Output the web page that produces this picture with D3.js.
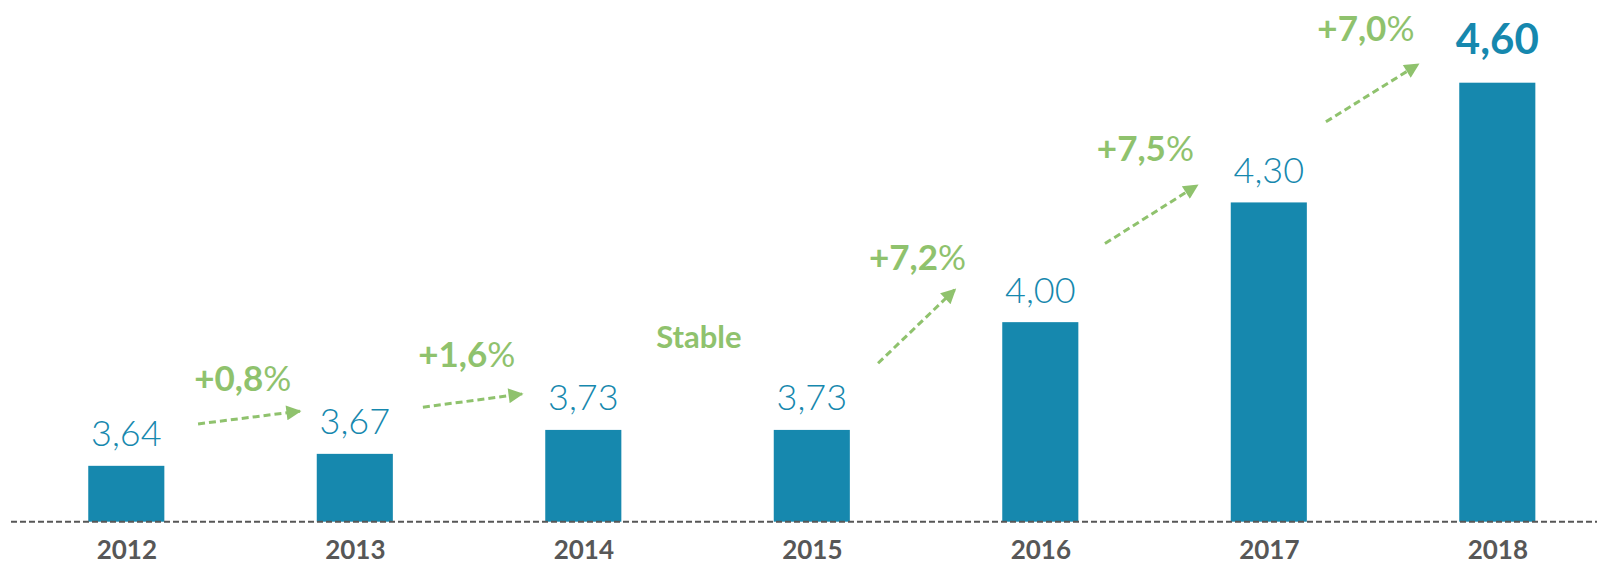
<!DOCTYPE html>
<html>
<head>
<meta charset="utf-8">
<script src="https://cdn.jsdelivr.net/npm/d3@7"></script>
<style>
  html, body { margin: 0; padding: 0; background: #fff; }
  svg { display: block; }
</style>
</head>
<body>
<div class="chart"></div>
<script>
// data
const years = ['2012', '2013', '2014', '2015', '2016', '2017', '2018'];
const values = [3.64, 3.67, 3.73, 3.73, 4.00, 4.30, 4.60];
const valueLabels = ['3,64', '3,67', '3,73', '3,73', '4,00', '4,30', '4,60'];

// growth annotations: label, then "%" suffix (empty for Stable)
const growthText = ['+0,8', '+1,6', 'Stable', '+7,2', '+7,5', '+7,0'];
const growthSuffix = ['%', '%', '', '%', '%', '%'];
// label anchor in data space (bar index, value)
const growthAt = [[0.51, 3.828], [1.49, 3.888], [2.506, 3.934], [3.463, 4.13], [4.46, 4.405], [5.425, 4.704]];
// arrows in data space: [x0, v0, x1, v1]
const arrows = [
  [0.314, 3.745, 0.76, 3.777],
  [1.298, 3.787, 1.732, 3.82],
  [3.29, 3.897, 3.627, 4.082],
  [4.283, 4.197, 4.687, 4.343],
  [5.25, 4.502, 5.654, 4.646]
];

const width = 1597, height = 565;
const blue = '#1688ae', green = '#8fc26d', grey = '#575757';

const svg = d3.select('.chart')
  .append('svg')
  .attr('width', width)
  .attr('height', height);

const xScale = d3.scalePoint().domain(years).range([126.3, 1497.3]);
const yScale = d3.scaleLinear().domain([3.5, 4.6]).range([521.7, 82.7]);
const step = xScale.step();
const barW = step * 0.333;
const xi = i => xScale.range()[0] + i * step;

// bars
svg.selectAll('.bar')
  .data(years)
  .enter()
  .append('rect')
  .attr('class', 'bar')
  .attr('x', d => xScale(d) - barW / 2)
  .attr('y', (d, i) => yScale(values[i]))
  .attr('width', barW)
  .attr('height', (d, i) => yScale(3.5) - yScale(values[i]))
  .style('fill', blue);

// baseline
svg.append('line')
  .attr('x1', 11).attr('x2', width)
  .attr('y1', yScale(3.5)).attr('y2', yScale(3.5))
  .style('stroke', grey)
  .style('stroke-width', 2)
  .style('stroke-dasharray', '6,3');

// x axis labels
const xAxis = svg.append('g')
  .attr('transform', 'translate(0,' + yScale(3.5) + ')')
  .call(d3.axisBottom(xScale).tickSize(0).tickPadding(0));
xAxis.select('.domain').remove();
xAxis.selectAll('text')
  .attr('dy', null)
  .attr('y', 37)
  .style('font-family', 'Lato, "Open Sans", sans-serif')
  .style('font-weight', 'bold')
  .style('font-size', '26px')
  .style('fill', grey);

// value labels
const last = years.length - 1;
svg.selectAll('.val')
  .data(years)
  .enter()
  .append('text')
  .attr('class', 'val')
  .attr('x', d => xScale(d))
  .attr('y', (d, i) => yScale(values[i]) - (i === last ? 29 : 19.5))
  .attr('text-anchor', 'middle')
  .style('font-family', 'Lato, "Open Sans", sans-serif')
  .style('font-weight', (d, i) => i === last ? 'bold' : '300')
  .style('font-size', (d, i) => i === last ? '42px' : '36px')
  .style('fill', blue)
  .text((d, i) => valueLabels[i]);

// arrow head
svg.append('defs').append('marker')
  .attr('id', 'head')
  .attr('viewBox', '0 0 10 10')
  .attr('refX', 9).attr('refY', 5)
  .attr('markerUnits', 'userSpaceOnUse')
  .attr('markerWidth', 17).attr('markerHeight', 15)
  .attr('orient', 'auto')
  .append('path')
  .attr('d', 'M0,0 L10,5 L0,10 Z')
  .style('fill', green);

svg.selectAll('.arrow')
  .data(arrows)
  .enter()
  .append('line')
  .attr('class', 'arrow')
  .attr('x1', d => xi(d[0]))
  .attr('y1', d => yScale(d[1]))
  .attr('x2', d => xi(d[2]))
  .attr('y2', d => yScale(d[3]))
  .attr('marker-end', 'url(#head)')
  .style('stroke', green)
  .style('stroke-width', 3)
  .style('stroke-dasharray', '7,4');

// growth labels
const g = svg.selectAll('.growth')
  .data(growthText)
  .enter()
  .append('text')
  .attr('class', 'growth')
  .attr('x', (d, i) => xi(growthAt[i][0]))
  .attr('y', (d, i) => yScale(growthAt[i][1]))
  .attr('text-anchor', 'middle')
  .style('fill', green)
  .style('font-family', 'Lato, "Open Sans", sans-serif')
  .style('font-weight', 'bold')
  .style('font-size', (d, i) => growthSuffix[i] ? '35px' : '31px');

g.append('tspan').text(d => d);
g.append('tspan')
  .style('font-weight', 'normal')
  .text((d, i) => growthSuffix[i]);
</script>
</body>
</html>
